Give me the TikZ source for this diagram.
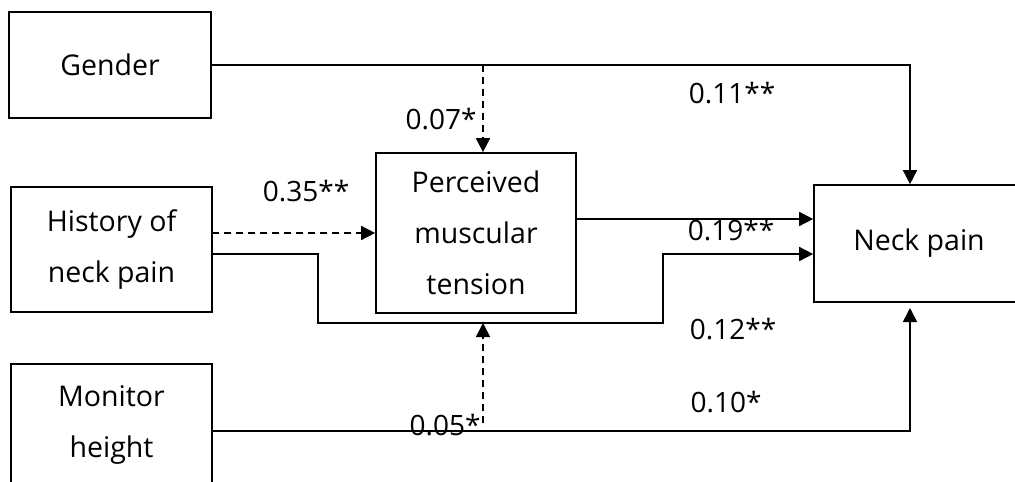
\documentclass[tikz,border=0pt]{standalone}
\usepackage{fontspec}
\setmainfont{Open Sans}
\usetikzlibrary{arrows.meta}
\begin{document}
\begin{tikzpicture}[x=1pt,y=-1pt,
  box/.style={draw,line width=1.7pt,inner sep=0pt,align=center,
    font=\fontsize{28.5}{51}\selectfont},
  lbl/.style={inner sep=0pt,font=\fontsize{28}{30}\selectfont},
  link/.style={line width=1.7pt},
  arr/.style={link,-{Triangle[length=14pt,width=14pt]}},
  darr/.style={arr,dash pattern=on 7pt off 5pt}]
\fill[white] (0,0) rectangle (1015,482);
\useasboundingbox (0,0) rectangle (1015,482);

% variables
\node[box,minimum width=202pt,minimum height=106pt] (gender) at (110,65) {Gender};
\node[box,minimum width=201pt,minimum height=125pt] (hist) at (111.5,249.5) {History of\\neck pain};
\node[box,minimum width=201pt,minimum height=122pt] (mon) at (111.5,425) {Monitor\\height};
\node[box,minimum width=200pt,minimum height=160pt] (perc) at (476,233) {Perceived\\muscular\\tension};
\node[box,minimum width=210pt,minimum height=117pt] (neck) at (919,243.5) {Neck pain};

% bend points
\coordinate (gBend) at (910,65);
\coordinate (gSplit) at (483,65);
\coordinate (hA) at (212,233);
\coordinate (hB) at (212,254);
\coordinate (h1) at (318,254);
\coordinate (h2) at (318,323);
\coordinate (h3) at (663,323);
\coordinate (h4) at (663,254);
\coordinate (pOut) at (576,219);
\coordinate (mOut) at (212,431);
\coordinate (mBend) at (910,431);
\coordinate (mEnd) at (910,308);
\coordinate (mSplit) at (483,423);
\coordinate (pIn) at (483,323);

% paths
\draw[arr] (gender.east |- gBend) -- (gBend) -- (gBend |- neck.north);
\draw[darr] (gSplit) -- (gSplit |- perc.north);
\draw[darr] (hA) -- (hA -| perc.west);
\draw[arr] (hB) -- (h1) -- (h2) -- (h3) -- (h4) -- (h4 -| neck.west);
\draw[arr] (pOut) -- (pOut -| neck.west);
\draw[arr] (mOut) -- (mBend) -- (mEnd);
\draw[darr] (mSplit) -- (pIn);

% coefficients
\node[lbl] (l07) at (441,119) {0.07*};
\node[lbl] (l11) at (732,93) {0.11**};
\node[lbl] (l35) at (306,191) {0.35**};
\node[lbl] (l19) at (731,230) {0.19**};
\node[lbl] (l12) at (733,329) {0.12**};
\node[lbl] (l10) at (726,402) {0.10*};
\node[lbl] (l05) at (445,425) {0.05*};
\end{tikzpicture}
\end{document}
